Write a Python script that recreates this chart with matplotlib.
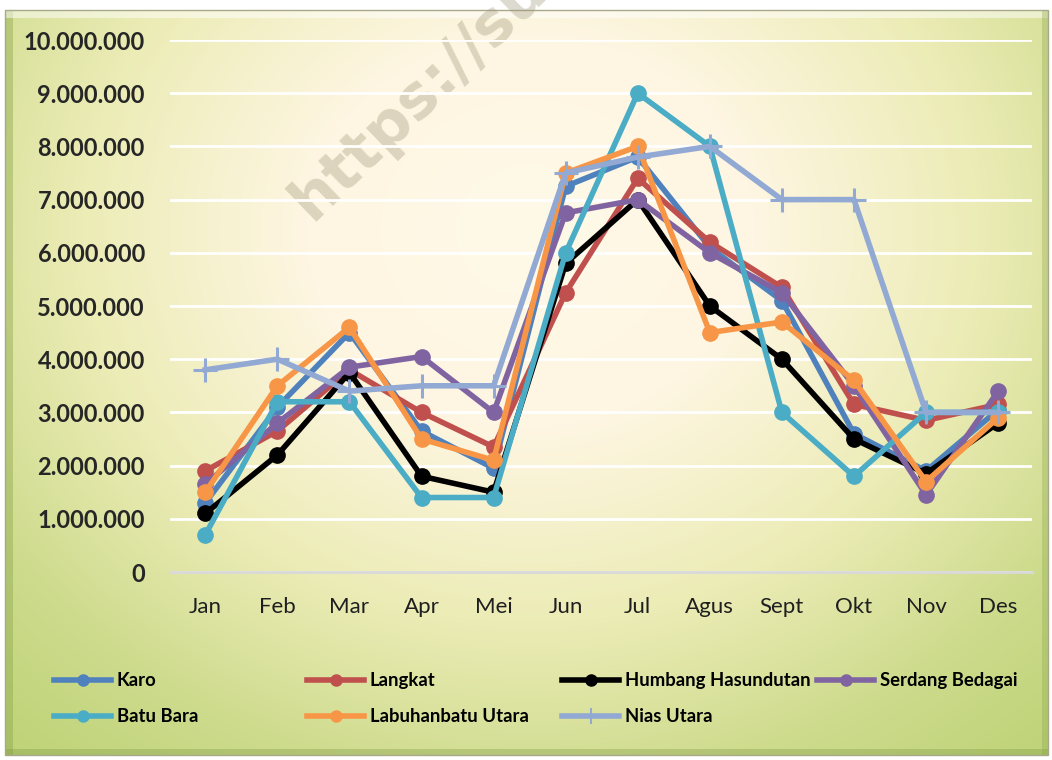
import numpy as np
import matplotlib
matplotlib.use("Agg")
from matplotlib import pyplot as plt
from matplotlib.lines import Line2D
from matplotlib.patches import Rectangle
from matplotlib.ticker import FuncFormatter

bulan = ['Jan', 'Feb', 'Mar', 'Apr', 'Mei', 'Jun', 'Jul', 'Agus', 'Sept', 'Okt', 'Nov', 'Des']

karo = [1300000, 3100000, 4500000, 2650000, 1950000, 7250000, 7800000, 6100000, 5100000, 2600000, 1900000, 3050000]
langkat = [1900000, 2650000, 3800000, 3000000, 2350000, 5250000, 7400000, 6200000, 5350000, 3150000, 2850000, 3150000]
humbang = [1100000, 2200000, 3750000, 1800000, 1500000, 5800000, 7000000, 5000000, 4000000, 2500000, 1850000, 2800000]
serdang = [1650000, 2800000, 3850000, 4050000, 3000000, 6750000, 7000000, 6000000, 5250000, 3500000, 1450000, 3400000]
batu_bara = [700000, 3200000, 3200000, 1400000, 1400000, 6000000, 9000000, 8000000, 3000000, 1800000, 3000000, 3000000]
labuhanbatu = [1500000, 3500000, 4600000, 2500000, 2100000, 7500000, 8000000, 4500000, 4700000, 3600000, 1700000, 2900000]
nias_utara = [3800000, 4000000, 3400000, 3500000, 3500000, 7500000, 7800000, 8000000, 7000000, 7000000, 3000000, 3000000]

seri = [
    ('Karo', karo, '#4F81BD', 'o'),
    ('Langkat', langkat, '#C0504D', 'o'),
    ('Humbang Hasundutan', humbang, '#000000', 'o'),
    ('Serdang Bedagai', serdang, '#8064A2', 'o'),
    ('Batu Bara', batu_bara, '#4BACC6', 'o'),
    ('Labuhanbatu Utara', labuhanbatu, '#F79646', 'o'),
    ('Nias Utara', nias_utara, '#92A9D3', '+'),
]

W, H = 1052, 760
fig = plt.figure(figsize=(W / 100, H / 100), dpi=100)

# latar gradien
bg = fig.add_axes([0, 0, 1, 1], zorder=-5)
yy, xx = np.mgrid[0:H, 0:W]
t = np.sqrt(((xx - 530) / 640.0) ** 2 + ((yy - 230) / 560.0) ** 2)
stops = [0.0, 0.35, 0.7, 1.0, 1.4]
r = np.interp(t, stops, [255, 254, 236, 205, 180])
g = np.interp(t, stops, [249, 246, 236, 219, 205])
b = np.interp(t, stops, [232, 226, 182, 140, 105])
img = np.dstack([r, g, b]) / 255.0
bg.imshow(img, extent=[0, W, H, 0], aspect='auto')
bg.set_xlim(0, W)
bg.set_ylim(H, 0)
bg.axis('off')
# bingkai putih di luar
bg.add_patch(Rectangle((0, 0), W, 10, color='white', lw=0))
bg.add_patch(Rectangle((0, 0), 5, H, color='white', lw=0))
bg.add_patch(Rectangle((1048, 0), 4, H, color='white', lw=0))
bg.add_patch(Rectangle((0, 755), W, 5, color='white', lw=0))
# efek bevel
bg.add_patch(Rectangle((5, 10), 8, 745, color='#8FAA4E', alpha=0.45, lw=0))
bg.add_patch(Rectangle((5, 10), 1043, 8, color='white', alpha=0.5, lw=0))
bg.add_patch(Rectangle((5, 749), 1043, 6, color='#7E9A45', alpha=0.35, lw=0))
bg.add_patch(Rectangle((1042, 10), 6, 745, color='#8FAA4E', alpha=0.35, lw=0))
bg.add_patch(Rectangle((5, 10), 1043, 745, fill=False, ec='#A9A98A', lw=1))

ax = fig.add_axes([170 / W, 1 - 572 / H, 862 / W, 532 / H])
ax.set_facecolor('none')
x = np.arange(len(bulan))
for i, (nama, nilai, warna, mk) in enumerate(seri):
    if mk == '+':
        ax.plot(x, nilai, color=warna, lw=4, marker='+', markersize=17, mew=2.2,
                zorder=3 + i)
    else:
        ax.plot(x, nilai, color=warna, lw=4, marker='o', markersize=11,
                zorder=3 + i)

ax.set_xlim(-0.49, 11.47)
ax.set_ylim(0, 10000000)
ax.set_yticks(np.arange(0, 10000001, 1000000))
ax.yaxis.set_major_formatter(FuncFormatter(lambda v, p: f'{int(v):,}'.replace(',', '.')))
ax.set_xticks(x)
ax.set_xticklabels(bulan)
ax.yaxis.grid(True, color='white', lw=2)
ax.set_axisbelow(True)
for s in ['top', 'left', 'right']:
    ax.spines[s].set_visible(False)
ax.spines['bottom'].set_color('#D9D9D9')
ax.spines['bottom'].set_linewidth(2)
ax.tick_params(axis='y', length=0, pad=18, labelsize=17, labelcolor='#262626')
ax.tick_params(axis='x', length=0, pad=18, labelsize=16, labelcolor='#1F1F1F')
for lb in ax.get_yticklabels():
    lb.set_fontfamily('Lato')
    lb.set_fontweight('bold')
for lb in ax.get_xticklabels():
    lb.set_fontfamily('Lato')

# watermark
fig.text(312 / W, 1 - 222 / H, 'https://su', rotation=44,
         fontsize=44, fontweight='bold', family='DejaVu Sans', color='#9E9478',
         alpha=0.35, ha='left', va='baseline', rotation_mode='anchor', zorder=-1)

# legenda: empat kolom
kolom = [[0, 4], [1, 5], [2, 6], [3]]
posx = [54, 307, 562, 817]
for k, idx in enumerate(kolom):
    hs, ls = [], []
    for j in idx:
        nama, nilai, warna, mk = seri[j]
        if mk == '+':
            h = Line2D([], [], color=warna, lw=4, marker='+', markersize=12, mew=1.5)
        else:
            h = Line2D([], [], color=warna, lw=4, marker='o', markersize=8)
        hs.append(h)
        ls.append(nama)
    leg = fig.legend(hs, ls, loc='upper left', bbox_to_anchor=(posx[k] / W, 1 - 672 / H),
                     frameon=False, handlelength=3.1, handletextpad=0.3, labelspacing=1.05,
                     borderaxespad=0, borderpad=0,
                     prop={'family': 'Lato', 'weight': 'bold', 'size': 13.3})

fig.savefig('out.png', dpi=100)
